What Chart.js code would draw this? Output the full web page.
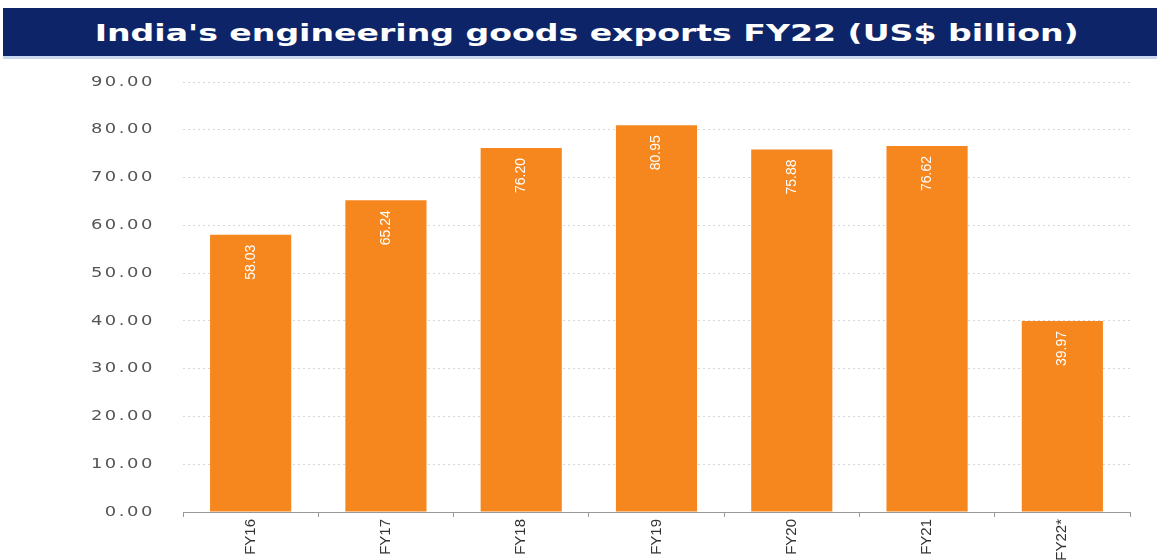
<!DOCTYPE html>
<html>
<head>
<meta charset="utf-8">
<script src="https://cdn.jsdelivr.net/npm/chart.js@4.4.1/dist/chart.umd.min.js"></script>
<style>
  body { margin: 0; background: #fff; width: 1157px; height: 560px; overflow: hidden; }
  #title {
    position: absolute; left: 3px; top: 8px; width: 1154px; height: 48px;
    background: #0d2468; color: #fff; border-bottom: 3px solid #c9d8ee;
    font-family: "DejaVu Sans", sans-serif; font-weight: bold; font-size: 23px;
    line-height: 50px; text-align: center;
  }
  #title span { display: inline-block; transform: scaleX(1.44); margin-left: 14px; }
  #wrap { position: absolute; left: 0; top: 60px; width: 1157px; height: 500px; }
</style>
</head>
<body>
<div id="title"><span>India's engineering goods exports FY22 (US$ billion)</span></div>
<div id="wrap"><canvas id="exportChart" width="1157" height="500"></canvas></div>
<script>
// Data
const years = ["FY16", "FY17", "FY18", "FY19", "FY20", "FY21", "FY22*"];
const exportsBn = [58.03, 65.24, 76.20, 80.95, 75.88, 76.62, 39.97];

const ctx = document.getElementById("exportChart");

// Draw the value of each bar, rotated, inside the top of the bar
const barLabels = {
    id: "barLabels",
    afterDatasetsDraw(chart) {
        const c = chart.ctx;
        const meta = chart.getDatasetMeta(0);
        c.save();
        c.fillStyle = "#fff";
        c.font = "14px 'Liberation Sans Narrow', 'Liberation Sans', sans-serif";
        c.textAlign = "right";
        c.textBaseline = "middle";
        meta.data.forEach((bar, i) => {
            c.save();
            c.translate(bar.x, bar.y + 10);
            c.rotate(-Math.PI / 2);
            c.fillText(exportsBn[i].toFixed(2), 0, 0);
            c.restore();
        });
        c.restore();
    }
};

// y tick labels in the picture use a very wide face: stretch them around their right edge
const wideYLabels = {
    id: "wideYLabels",
    afterUpdate(chart) {
        const y = chart.scales.y;
        if (y._wide) return;
        const orig = y.drawLabels.bind(y);
        y.drawLabels = function (area) {
            const c = chart.ctx;
            const right = y.right - y.options.ticks.padding;
            c.save();
            c.letterSpacing = "2px";
            c.translate(right, 0);
            c.scale(1.28, 1);
            c.translate(-right, 0);
            orig(area);
            c.restore();
        };
        y._wide = true;
    }
};

new Chart(ctx, {
    type: "bar",
    data: {
        labels: years,
        datasets: [{
            data: exportsBn,
            backgroundColor: "#f6871f",
            barPercentage: 0.6,
            categoryPercentage: 1.0
        }]
    },
    options: {
        responsive: false,
        animation: false,
        layout: { padding: { top: 22, right: 27, left: 0, bottom: 0 } },
        plugins: {
            legend: { display: false },
            tooltip: { enabled: false }
        },
        scales: {
            x: {
                afterFit: (scale) => { scale.height = 48; },
                border: { color: "#999" },
                grid: { drawOnChartArea: false, offset: true, tickLength: 5, color: "#999" },
                ticks: {
                    autoSkip: false,
                    minRotation: 90, maxRotation: 90, padding: 2,
                    color: "#333",
                    font: { family: "'Liberation Sans Narrow', 'Liberation Sans', sans-serif", size: 15 }
                }
            },
            y: {
                min: 0, max: 90,
                afterFit: (scale) => {
                    scale.width = 183;
                    scale.paddingTop = 0;
                    scale.paddingBottom = 0;
                },
                border: { display: false, dash: [2, 3] },
                grid: { color: "#d8d8d8", drawTicks: false },
                ticks: {
                    stepSize: 10, padding: 28, color: "#555",
                    font: { family: "'DejaVu Sans', sans-serif", size: 14 },
                    callback: (v) => v.toFixed(2)
                }
            }
        }
    },
    plugins: [barLabels, wideYLabels]
});
</script>
</body>
</html>
